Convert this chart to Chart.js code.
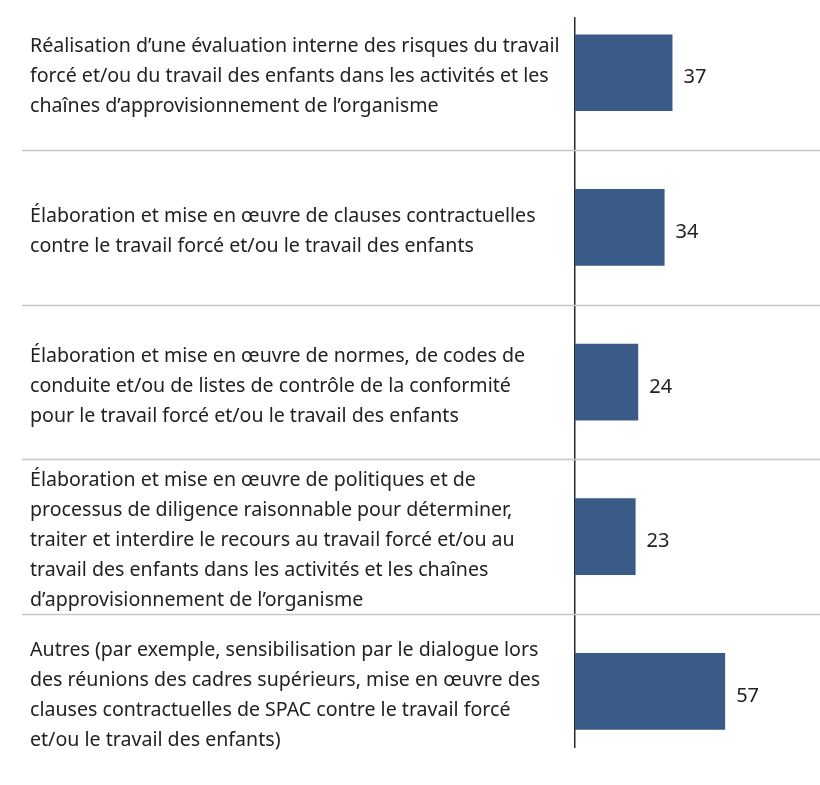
<!DOCTYPE html>
<html lang="fr">
<head>
<meta charset="utf-8">
<title>Mesures contre le travail forcé et le travail des enfants</title>
<script src="https://cdn.jsdelivr.net/npm/chart.js@4.4.1/dist/chart.umd.min.js"></script>
<style>
  html, body { margin: 0; padding: 0; background: #fff; }
  #wrap { position: relative; width: 820px; height: 785px; }
</style>
</head>
<body>
<div id="wrap"><canvas id="chart"></canvas></div>
<script>
const categories = [
  ['Réalisation d’une évaluation interne des risques du travail',
   'forcé et/ou du travail des enfants dans les activités et les',
   'chaînes d’approvisionnement de l’organisme'],
  ['Élaboration et mise en œuvre de clauses contractuelles',
   'contre le travail forcé et/ou le travail des enfants'],
  ['Élaboration et mise en œuvre de normes, de codes de',
   'conduite et/ou de listes de contrôle de la conformité',
   'pour le travail forcé et/ou le travail des enfants'],
  ['Élaboration et mise en œuvre de politiques et de',
   'processus de diligence raisonnable pour déterminer,',
   'traiter et interdire le recours au travail forcé et/ou au',
   'travail des enfants dans les activités et les chaînes',
   'd’approvisionnement de l’organisme'],
  ['Autres (par exemple, sensibilisation par le dialogue lors',
   'des réunions des cadres supérieurs, mise en œuvre des',
   'clauses contractuelles de SPAC contre le travail forcé',
   'et/ou le travail des enfants)'],
];
const values = [37, 34, 24, 23, 57];

const FONT = '"Noto Sans", "Open Sans", sans-serif';
const TEXT = '#222222';
const BAR = '#3a5a87';

// horizontal rules between the groups, extending under the labels
const separators = {
  id: 'separators',
  beforeDatasetsDraw(chart) {
    const { ctx, scales: { y }, width } = chart;
    ctx.save();
    ctx.strokeStyle = '#c8c8c8';
    ctx.lineWidth = 1.5;
    for (let i = 0; i < categories.length - 1; i++) {
      const py = Math.round(y.getPixelForValue(i + 0.5)) + 0.5;
      ctx.beginPath();
      ctx.moveTo(22, py);
      ctx.lineTo(width, py);
      ctx.stroke();
    }
    ctx.restore();
  },
};

// value printed just past the end of each bar
const barValues = {
  id: 'barValues',
  afterDatasetsDraw(chart) {
    const { ctx } = chart;
    const meta = chart.getDatasetMeta(0);
    ctx.save();
    ctx.font = '20px ' + FONT;
    ctx.fillStyle = TEXT;
    ctx.textAlign = 'left';
    ctx.textBaseline = 'middle';
    meta.data.forEach((bar, i) => {
      ctx.fillText(String(values[i]), bar.x + 11, bar.y + 5);
    });
    ctx.restore();
  },
};

new Chart(document.getElementById('chart'), {
  type: 'bar',
  data: {
    datasets: [{
      data: values.map((v, i) => ({ x: v, y: i })),
      backgroundColor: BAR,
      borderWidth: 0,
      categoryPercentage: 1,
      barPercentage: 0.496,
    }],
  },
  options: {
    indexAxis: 'y',
    responsive: true,
    maintainAspectRatio: false,
    animation: false,
    layout: { padding: { left: 30, top: 18, bottom: 38, right: 0 } },
    plugins: {
      legend: { display: false },
      tooltip: { enabled: false },
    },
    scales: {
      x: {
        type: 'linear',
        display: false,
        min: 0,
        max: 93,
      },
      y: {
        type: 'linear',
        reverse: true,
        offset: false,
        min: -0.354,
        max: 4.36,
        afterBuildTicks: (scale) => {
          scale.ticks = categories.map((_, i) => ({ value: i }));
        },
        afterFit: (scale) => {
          scale.width = 545;
          scale.paddingTop = 0;
          scale.paddingBottom = 0;
        },
        grid: { display: false, drawTicks: false, offset: false },
        border: { display: true, color: '#2b2b2b', width: 1.5 },
        ticks: {
          crossAlign: 'far',
          padding: 0,
          labelOffset: 4,
          autoSkip: false,
          color: TEXT,
          font: { family: FONT, size: 19.6, lineHeight: 1.53 },
          callback: (v) => categories[v] || '',
        },
      },
    },
  },
  plugins: [separators, barValues],
});
</script>
</body>
</html>
